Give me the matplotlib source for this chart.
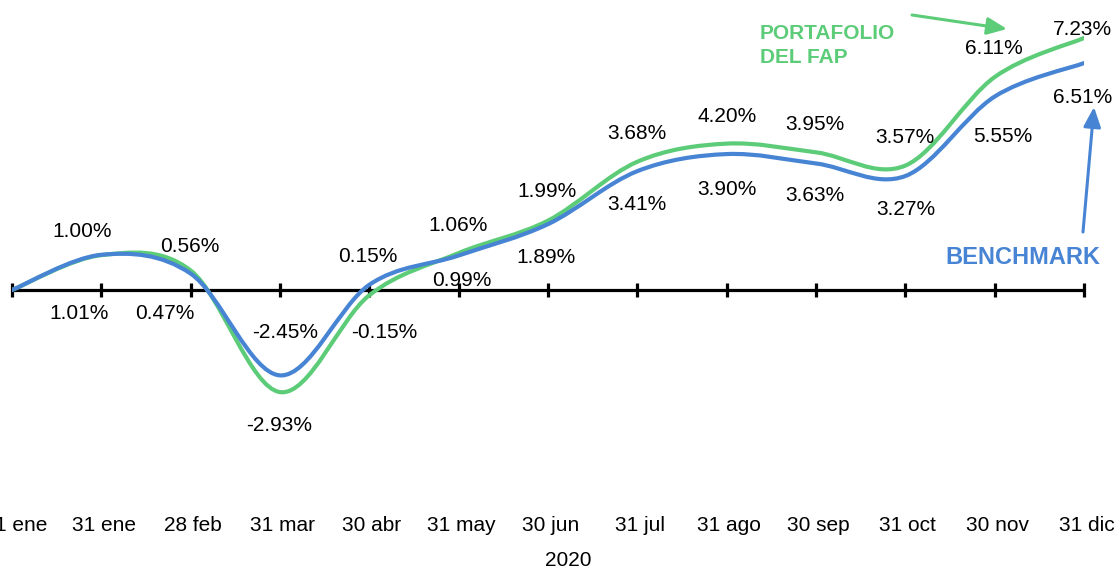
import numpy as np
import matplotlib.pyplot as plt
from matplotlib.path import Path
from matplotlib.patches import PathPatch
from matplotlib.transforms import ScaledTranslation

plt.rcParams['font.family'] = ['Liberation Sans', 'DejaVu Sans']

fechas = ['1 ene', '31 ene', '28 feb', '31 mar', '30 abr', '31 may', '30 jun',
          '31 jul', '31 ago', '30 sep', '31 oct', '30 nov', '31 dic']
portafolio = [0.00, 1.00, 0.56, -2.93, -0.15, 1.06, 1.99, 3.68, 4.20, 3.95, 3.57, 6.11, 7.23]
benchmark = [0.00, 1.01, 0.47, -2.45, 0.15, 0.99, 1.89, 3.41, 3.90, 3.63, 3.27, 5.55, 6.51]

# desplazamiento de cada etiqueta (pixeles, centro del texto respecto al punto)
pos_port = [None, (-19, 26), (-1, 25.5), (-1, -31), (15, -35.5), (-0.5, 29.5), (-1, 31.5),
            (0, 30), (0, 29.6), (-1, 30), (0, 30), (-1, 30.5), (-1.5, 11)]
pos_bench = [None, (-22, -57), (-25.5, -38), (5, 45), (-1.5, 30), (3.5, -23.5), (-2, -31),
             (0, -31.5), (0, -33), (-1, -30.5), (0, -31.5), (8, -37.5), (-1, -32.5)]

verde = '#5CCC78'
azul = '#4884D4'


def curva(ax, y, color):
    # linea suavizada tipo Excel (Catmull-Rom -> Bezier)
    x = np.arange(len(y), dtype=float)
    pts = np.column_stack([x, y])
    ext = np.vstack([pts[0], pts, pts[-1]])
    verts = [pts[0]]
    codes = [Path.MOVETO]
    for i in range(len(pts) - 1):
        c1 = ext[i + 1] + (ext[i + 2] - ext[i]) / 6
        c2 = ext[i + 2] - (ext[i + 3] - ext[i + 1]) / 6
        verts += [c1, c2, pts[i + 1]]
        codes += [Path.CURVE4] * 3
    ax.add_patch(PathPatch(Path(verts, codes), fill=False, ec=color, lw=3,
                           capstyle='round', zorder=3))


def etiquetas(ax, y, offsets):
    for i, v in enumerate(y):
        if offsets[i] is None:
            continue
        dx, dy = offsets[i]
        ax.annotate(f'{v:.2f}%', (i, v), xytext=(dx, dy - 7.5), textcoords='offset pixels',
                    ha='center', va='baseline', fontsize=15, color='black',
                    annotation_clip=False)


fig = plt.figure(figsize=(11.16, 5.67), dpi=100)
W, H = 1116, 567
ax = fig.add_axes([12 / W, (H - 500) / H, 1072 / W, 480 / H])
ax.set_xlim(0, 12)
ax.set_ylim(-6.026, 7.747)
for s in ax.spines.values():
    s.set_visible(False)
ax.set_yticks([])
ax.set_xticks(range(len(fechas)), fechas)
ax.tick_params(axis='x', length=0, pad=11.7, labelsize=15)
# Excel corre un poco las etiquetas; la primera queda pegada al borde
for i, lab in enumerate(ax.get_xticklabels()):
    dx = 9 if i == 0 else 2.5
    lab.set_transform(lab.get_transform() + ScaledTranslation(dx / 100, 0, fig.dpi_scale_trans))

xs = np.arange(len(fechas))
ax.axhline(0, color='black', lw=2.3, zorder=2)
ax.plot(xs, np.zeros(len(xs)), ls='none', marker='|', ms=9.5, mew=2.3,
        color='black', zorder=2, clip_on=False)

curva(ax, portafolio, verde)
curva(ax, benchmark, azul)
etiquetas(ax, portafolio, pos_port)
etiquetas(ax, benchmark, pos_bench)

fig.text(760 / W, (H - 39) / H, 'PORTAFOLIO', color=verde, fontsize=15,
         fontweight='bold', ha='left', va='baseline')
fig.text(760 / W, (H - 63) / H, 'DEL FAP', color=verde, fontsize=15,
         fontweight='bold', ha='left', va='baseline')
fig.text(1023 / W, (H - 264) / H, 'BENCHMARK', color=azul, fontsize=17,
         fontweight='bold', ha='center', va='baseline')
fig.text(568 / W, 1.5 / H, '2020', color='black', fontsize=15,
         ha='center', va='baseline')

flecha = '-|>,head_length=0.8,head_width=0.35'
ax.annotate('', xy=(1007, H - 29), xytext=(912, H - 15), xycoords='figure pixels',
            textcoords='figure pixels',
            arrowprops=dict(arrowstyle=flecha, color=verde, lw=2.2,
                            mutation_scale=15, shrinkA=0, shrinkB=0))
ax.annotate('', xy=(1094, H - 107), xytext=(1083, H - 232), xycoords='figure pixels',
            textcoords='figure pixels',
            arrowprops=dict(arrowstyle=flecha, color=azul, lw=2.2,
                            mutation_scale=15, shrinkA=0, shrinkB=0))

fig.savefig('out.png', dpi=100)
